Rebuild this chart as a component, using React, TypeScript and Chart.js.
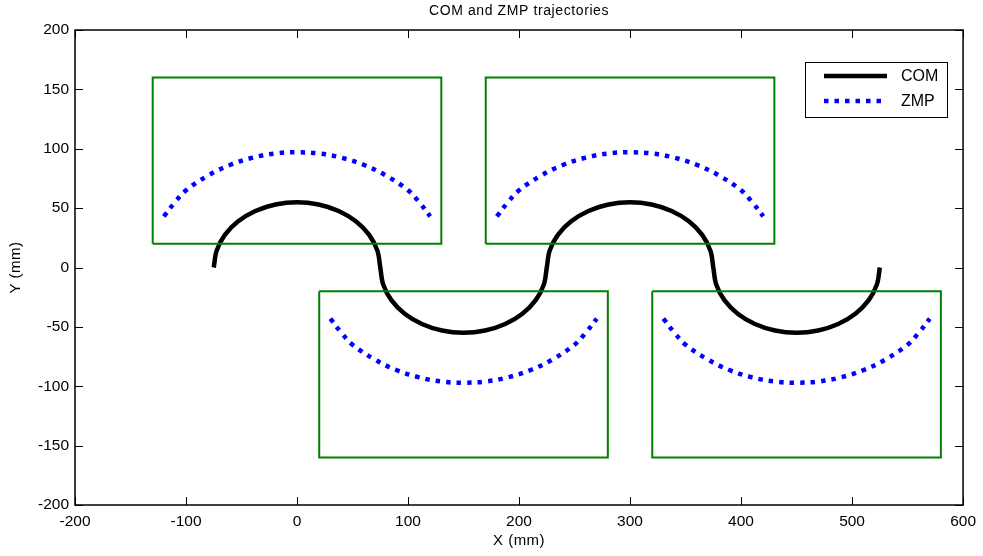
import React, { useEffect, useRef } from 'react';
import { Chart, registerables } from 'chart.js';

Chart.register(...registerables);

const titleText = 'COM and ZMP trajectories';
const xLabel = 'X (mm)';
const yLabel = 'Y (mm)';
const legendLabels = ['COM', 'ZMP'];
const xTicks = [-200, -100, 0, 100, 200, 300, 400, 500, 600];
const yTicks = [-200, -150, -100, -50, 0, 50, 100, 150, 200];

// COM trajectory (mm)
const comX = [
  -75, -72.4, -65, -53, -37.5, -19.4, 0, 19.4, 37.5, 53, 65, 72.4, 75,
  77.6, 85, 97, 112.5, 130.6, 150, 169.4, 187.5, 203, 215, 222.4, 225,
  227.6, 235, 247, 262.5, 280.6, 300, 319.4, 337.5, 353, 365, 372.4, 375,
  377.6, 385, 397, 412.5, 430.6, 450, 469.4, 487.5, 503, 515, 522.4, 525,
];
const comY = [
  0, 14.2, 27.5, 38.9, 47.6, 53.1, 55, 53.1, 47.6, 38.9, 27.5, 14.2, 0,
  -14.2, -27.5, -38.9, -47.6, -53.1, -55, -53.1, -47.6, -38.9, -27.5, -14.2, 0,
  14.2, 27.5, 38.9, 47.6, 53.1, 55, 53.1, 47.6, 38.9, 27.5, 14.2, 0,
  -14.2, -27.5, -38.9, -47.6, -53.1, -55, -53.1, -47.6, -38.9, -27.5, -14.2, 0,
];

// ZMP trajectory (mm), null separates steps
const zmpX = [
  -120, -110, -100, -80, -60, -40, -20, 0, 20, 40, 60, 80, 100, 110, 120, null,
  30, 40, 50, 70, 90, 110, 130, 150, 170, 190, 210, 230, 250, 260, 270, null,
  180, 190, 200, 220, 240, 260, 280, 300, 320, 340, 360, 380, 400, 410, 420, null,
  330, 340, 350, 370, 390, 410, 430, 450, 470, 490, 510, 530, 550, 560, 570,
];
const zmpY = [
  43, 55, 65, 77.5, 86.5, 92.5, 96, 97, 96, 92.5, 86.5, 77.5, 65, 55, 43, null,
  -43, -55, -65, -77.5, -86.5, -92.5, -96, -97, -96, -92.5, -86.5, -77.5, -65, -55, -43, null,
  43, 55, 65, 77.5, 86.5, 92.5, 96, 97, 96, 92.5, 86.5, 77.5, 65, 55, 43, null,
  -43, -55, -65, -77.5, -86.5, -92.5, -96, -97, -96, -92.5, -86.5, -77.5, -65, -55, -43,
];

// Footprint rectangles (mm)
const footX = [
  -130, 130, 130, -130, -130, null,
  20, 280, 280, 20, 20, null,
  170, 430, 430, 170, 170, null,
  320, 580, 580, 320, 320,
];
const footY = [
  20, 20, 160, 160, 20, null,
  -20, -20, -160, -160, -20, null,
  20, 20, 160, 160, 20, null,
  -20, -20, -160, -160, -20,
];

const FONT = '"Liberation Sans", Arial, Helvetica, sans-serif';

const toPoints = (xs: (number | null)[], ys: (number | null)[]) =>
  xs.map((x, i) => ({ x: x === null ? NaN : x, y: ys[i] === null ? null : ys[i] }));

const decorPlugin = {
  id: 'decor',
  beforeDraw(chart: any) {
    const { ctx, width, height } = chart;
    ctx.save();
    ctx.fillStyle = '#ffffff';
    ctx.fillRect(0, 0, width, height);
    ctx.restore();
  },
  afterDraw(chart: any) {
    const { ctx, chartArea } = chart;
    const { left, right, top, bottom } = chartArea;
    const xs = chart.scales.x;
    const ys = chart.scales.y;
    ctx.save();
    // box
    ctx.strokeStyle = '#000';
    ctx.lineWidth = 1.5;
    ctx.strokeRect(left, top, right - left, bottom - top);
    // inward ticks
    ctx.lineWidth = 1;
    ctx.beginPath();
    xTicks.forEach((v) => {
      const p = Math.round(xs.getPixelForValue(v)) + 0.5;
      ctx.moveTo(p, bottom);
      ctx.lineTo(p, bottom - 8);
      ctx.moveTo(p, top);
      ctx.lineTo(p, top + 8);
    });
    yTicks.forEach((v) => {
      const p = Math.round(ys.getPixelForValue(v)) + 0.5;
      ctx.moveTo(left, p);
      ctx.lineTo(left + 8, p);
      ctx.moveTo(right, p);
      ctx.lineTo(right - 8, p);
    });
    ctx.stroke();

    // title
    ctx.fillStyle = '#000';
    ctx.textAlign = 'center';
    ctx.textBaseline = 'middle';
    ctx.font = `14px ${FONT}`;
    (ctx as any).letterSpacing = '0.6px';
    ctx.fillText(titleText, (left + right) / 2, 11);
    // x label
    ctx.font = `15px ${FONT}`;
    (ctx as any).letterSpacing = '0.5px';
    ctx.fillText(xLabel, (left + right) / 2, 541);
    // y label
    ctx.save();
    ctx.translate(16, (top + bottom) / 2);
    ctx.rotate(-Math.PI / 2);
    ctx.fillText(yLabel, 0, 0);
    ctx.restore();
    (ctx as any).letterSpacing = '0px';

    // legend
    const lx = 805, ly = 62, lw = 142, lh = 55;
    ctx.fillStyle = '#fff';
    ctx.fillRect(lx, ly, lw, lh);
    ctx.strokeStyle = '#000';
    ctx.lineWidth = 1;
    ctx.strokeRect(lx + 0.5, ly + 0.5, lw, lh);
    ctx.lineWidth = 4.5;
    ctx.lineCap = 'butt';
    ctx.beginPath();
    ctx.moveTo(824, 76);
    ctx.lineTo(887, 76);
    ctx.strokeStyle = '#000';
    ctx.stroke();
    ctx.beginPath();
    ctx.setLineDash([4.5, 6]);
    ctx.moveTo(824, 101);
    ctx.lineTo(887, 101);
    ctx.strokeStyle = '#0000ff';
    ctx.stroke();
    ctx.setLineDash([]);
    ctx.fillStyle = '#000';
    ctx.textAlign = 'left';
    ctx.textBaseline = 'middle';
    ctx.font = `16px ${FONT}`;
    ctx.fillText(legendLabels[0], 901, 77);
    ctx.fillText(legendLabels[1], 901, 102);
    ctx.restore();
  },
};

export default function App() {
  const ref = useRef<HTMLCanvasElement | null>(null);

  useEffect(() => {
    document.body.style.margin = '0';
    const canvas = ref.current;
    if (!canvas) return;
    const tickFont = { family: FONT, size: 15.5 };
    const chart = new Chart(canvas, {
      type: 'scatter',
      data: {
        datasets: [
          {
            label: 'Footprints',
            data: toPoints(footX, footY),
            showLine: true,
            borderColor: '#008000',
            borderWidth: 2,
            pointRadius: 0,
            tension: 0,
            spanGaps: false,
          },
          {
            label: legendLabels[1],
            data: toPoints(zmpX, zmpY),
            showLine: true,
            borderColor: '#0000ff',
            borderWidth: 4.5,
            borderDash: [4.5, 6],
            borderCapStyle: 'butt',
            pointRadius: 0,
            tension: 0.4,
            spanGaps: false,
          },
          {
            label: legendLabels[0],
            data: toPoints(comX, comY),
            showLine: true,
            borderColor: '#000000',
            borderWidth: 4.5,
            borderJoinStyle: 'round',
            pointRadius: 0,
            tension: 0.35,
          },
        ],
      } as any,
      options: {
        responsive: false,
        animation: false,
        devicePixelRatio: 1,
        layout: { autoPadding: false, padding: { top: 30, right: 17, left: 0, bottom: 0 } },
        plugins: {
          legend: { display: false },
          title: { display: false },
          tooltip: { enabled: false },
        },
        scales: {
          x: {
            type: 'linear',
            min: xTicks[0],
            max: xTicks[xTicks.length - 1],
            afterFit: (s: any) => { s.height = 51; },
            afterBuildTicks: (s: any) => { s.ticks = xTicks.map((v) => ({ value: v })); },
            grid: { display: false, drawTicks: false },
            border: { display: false },
            ticks: { font: tickFont, color: '#000', padding: 7, maxRotation: 0, autoSkip: false },
          },
          y: {
            type: 'linear',
            min: yTicks[0],
            max: yTicks[yTicks.length - 1],
            afterFit: (s: any) => { s.width = 75; },
            afterBuildTicks: (s: any) => { s.ticks = yTicks.map((v) => ({ value: v })); },
            grid: { display: false, drawTicks: false },
            border: { display: false },
            ticks: { font: tickFont, color: '#000', padding: 6, autoSkip: false },
          },
        },
      } as any,
      plugins: [decorPlugin],
    });
    return () => chart.destroy();
  }, []);

  return <canvas ref={ref} width={983} height={556} style={{ display: 'block' }} />;
}
